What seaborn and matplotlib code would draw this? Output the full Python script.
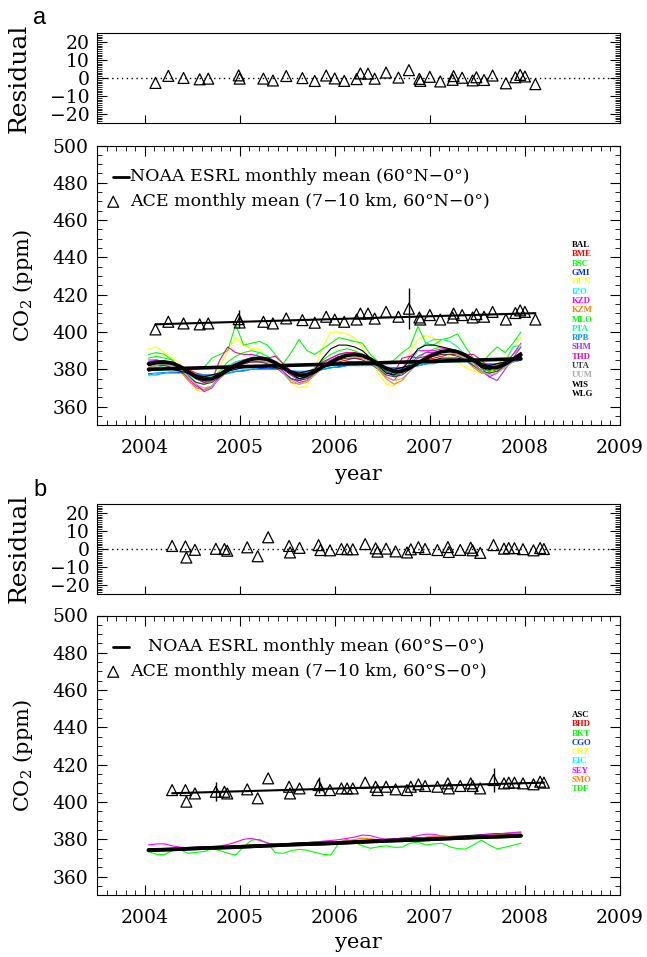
import numpy as np
import pandas as pd
import matplotlib
matplotlib.use("Agg")
import matplotlib.pyplot as plt
import seaborn as sns
from matplotlib.ticker import MultipleLocator

# ---------------- data ----------------
years = [2004, 2005, 2006, 2007]
month_no = list(range(1, 13))

# ACE monthly means, panel a (60N-0)
ace_a_t = [2004.115, 2004.25, 2004.41, 2004.58, 2004.67, 2004.99, 2005.00, 2005.25, 2005.35,
           2005.49, 2005.66, 2005.79, 2005.91, 2006.00, 2006.10, 2006.23, 2006.27, 2006.35,
           2006.42, 2006.54, 2006.67, 2006.78, 2006.89, 2006.90, 2007.00, 2007.11, 2007.24,
           2007.25, 2007.34, 2007.45, 2007.49, 2007.57, 2007.66, 2007.80, 2007.90, 2007.95,
           2008.00, 2008.11]
ace_a_v = [401.4, 405.5, 404.6, 404.1, 404.6, 406.9, 405.1, 405.5, 404.6,
           407.3, 406.4, 405.0, 408.2, 406.7, 405.5, 406.7, 409.9, 409.9,
           407.2, 410.8, 408.2, 412.5, 407.8, 406.7, 409.1, 406.7, 407.8,
           409.9, 409.1, 407.8, 409.6, 408.2, 410.8, 406.7, 410.2, 411.6,
           410.8, 406.7]
ace_a_err_t = [2004.99, 2006.78]
ace_a_err_v = [406.9, 412.5]
ace_a_err = [5.0, 11.0]

# ACE monthly means, panel b (60S-0)
ace_b_t = [2004.29, 2004.43, 2004.44, 2004.53, 2004.75, 2004.84, 2004.87, 2005.08, 2005.19,
           2005.30, 2005.52, 2005.53, 2005.63, 2005.83, 2005.85, 2005.95, 2006.07, 2006.13,
           2006.19, 2006.32, 2006.43, 2006.45, 2006.54, 2006.64, 2006.76, 2006.80, 2006.88,
           2006.95, 2007.08, 2007.19, 2007.20, 2007.32, 2007.43, 2007.45, 2007.53, 2007.67,
           2007.78, 2007.83, 2007.89, 2007.98, 2008.09, 2008.16, 2008.20]
ace_b_v = [406.4, 406.4, 400.2, 404.6, 405.5, 405.5, 404.6, 406.8, 402.0,
           412.7, 408.2, 404.6, 407.3, 409.1, 406.4, 406.4, 407.3, 407.3,
           407.3, 410.4, 408.2, 406.4, 408.2, 406.8, 406.4, 408.2, 409.5,
           408.6, 408.2, 410.0, 407.3, 408.6, 410.0, 408.6, 407.3, 411.8,
           410.0, 410.4, 410.4, 410.0, 409.5, 410.9, 410.4]
ace_b_err_t = [2004.75, 2005.83, 2007.67]
ace_b_err_v = [405.5, 409.1, 411.8]
ace_b_err = [5.0, 4.5, 6.5]

# NOAA ESRL monthly mean, 60N-0 (Jan 2004 .. Dec 2007)
noaa_mean_a = [383.0, 383.8, 384.0, 383.3, 381.5, 378.8, 376.2, 374.8, 375.0, 376.8, 379.5, 382.0,
               384.0, 385.5, 386.0, 385.4, 383.6, 381.0, 378.4, 376.8, 377.0, 378.8, 381.4, 383.8,
               386.0, 387.5, 388.0, 387.4, 385.6, 383.0, 380.4, 378.8, 379.0, 380.8, 383.4, 385.8,
               388.0, 389.5, 390.0, 389.4, 387.6, 385.0, 382.4, 380.8, 381.0, 382.8, 385.4, 387.8]

stations_a = ["BAL", "BME", "BSC", "GMI", "HUN", "IZO", "KZD", "KZM",
              "MLO", "PTA", "RPB", "SHM", "THD", "UTA", "UUM", "WIS", "WLG"]
BAL = [383, 384, 384, 383, 381, 378, 375, 373, 374, 377, 380, 382,
       384, 386, 386, 385, 383, 380, 377, 375, 376, 379, 382, 384,
       386, 388, 388, 387, 385, 382, 379, 377, 378, 381, 384, 386,
       388, 390, 390, 389, 387, 384, 381, 379, 380, 383, 386, 389]
BME = [382, 383, 383, 383, 382, 380, 378, 377, 377, 378, 380, 381,
       383, 384, 384, 384, 383, 381, 379, 378, 378, 379, 381, 383,
       384, 385, 386, 386, 385, 383, 381, 379, 379, 381, 383, 385,
       386, 387, 388, 388, 387, 385, 383, 381, 381, 383, 385, 387]
BSC = [388, 389, 388, 385, 381, 377, 373, 372, 374, 379, 384, 387,
       389, 390, 389, 387, 383, 378, 375, 374, 376, 380, 385, 388,
       390, 391, 390, 388, 385, 381, 378, 377, 378, 382, 386, 389,
       391, 392, 391, 389, 386, 382, 380, 379, 380, 383, 388, 392]
GMI = [377.6, 378.0, 378.3, 378.5, 378.3, 377.9, 377.2, 376.5, 376.3, 376.9, 377.8, 378.8,
       379.5, 380.0, 380.4, 380.6, 380.4, 380.0, 379.3, 378.6, 378.4, 379.0, 379.9, 380.8,
       381.5, 382.0, 382.5, 382.7, 382.5, 382.0, 381.3, 380.6, 380.4, 381.0, 381.9, 382.9,
       383.6, 384.1, 384.5, 384.7, 384.5, 384.0, 383.3, 382.6, 382.4, 383.0, 384.0, 384.9]
HUN = [391, 392, 389, 386, 383, 377, 369, 368, 371, 381, 390, 397,
       393, 391, 391, 386, 383, 378, 373, 370, 371, 381, 392, 400,
       400, 399, 397, 392, 385, 378, 372, 371, 380, 389, 396, 398,
       397, 392, 386, 384, 381, 379, 378, 377, 383, 386, 391, 397]
IZO = [377, 378, 378, 379, 379, 378, 377, 376, 376, 377, 378, 379,
       380, 380, 381, 381, 381, 380, 379, 378, 378, 379, 380, 381,
       382, 383, 383, 383, 383, 382, 381, 380, 380, 381, 382, 383,
       384, 385, 385, 385, 385, 384, 383, 382, 382, 383, 384, 385]
KZD = [384, 385, 384, 383, 380, 375, 371, 369, 371, 376, 381, 384,
       385, 386, 386, 385, 383, 379, 375, 373, 374, 378, 383, 386,
       388, 389, 389, 388, 386, 381, 376, 374, 380, 387, 390, 390,
       390, 391, 391, 390, 388, 384, 379, 376, 378, 383, 388, 394]
KZM = [382, 383, 383, 382, 379, 374, 370, 369, 371, 375, 379, 382,
       384, 385, 385, 384, 382, 378, 373, 372, 374, 377, 381, 384,
       386, 387, 387, 386, 384, 380, 375, 372, 374, 379, 384, 387,
       389, 389, 389, 388, 385, 381, 378, 378, 379, 381, 384, 387]
MLO = [386, 387, 386, 385, 381, 380, 380, 381, 386, 388, 390, 404,
       393, 394, 395, 393, 388, 383, 389, 396, 390, 388, 391, 394,
       397, 396, 395, 394, 388, 384, 383, 385, 389, 392, 403, 394,
       393, 396, 397, 399, 392, 386, 383, 388, 392, 389, 394, 400]
PTA = [380, 381, 382, 382, 380, 377, 375, 374, 376, 379, 382, 384,
       385, 386, 389, 387, 384, 380, 378, 377, 378, 381, 384, 386,
       388, 388, 388, 387, 385, 382, 379, 378, 380, 383, 390, 394,
       396, 396, 395, 392, 388, 384, 382, 381, 382, 384, 392, 393]
RPB = [377, 377, 378, 378, 378, 378, 377, 377, 377, 378, 378, 379,
       379, 380, 380, 380, 380, 380, 379, 379, 379, 380, 380, 381,
       381, 382, 382, 382, 382, 382, 381, 381, 381, 382, 382, 383,
       383, 384, 384, 384, 384, 384, 383, 383, 383, 384, 384, 385]
SHM = [385, 385, 384, 384, 382, 377, 372, 368, 370, 376, 380, 383,
       385, 386, 385, 385, 384, 381, 377, 374, 376, 379, 382, 385,
       387, 387, 388, 387, 386, 383, 379, 376, 378, 383, 387, 389,
       389, 390, 390, 389, 388, 385, 381, 376, 374, 380, 386, 392]
THD = [383, 384, 384, 383, 381, 378, 375, 373, 374, 385, 392, 389,
       388, 388, 387, 386, 387, 383, 379, 377, 378, 380, 384, 386,
       388, 389, 389, 388, 386, 383, 380, 378, 386, 387, 386, 387,
       389, 390, 390, 389, 388, 388, 385, 381, 382, 384, 386, 389]
UTA = [381, 382, 382, 381, 379, 376, 373, 372, 373, 376, 379, 381,
       383, 384, 384, 383, 381, 378, 375, 374, 375, 378, 381, 383,
       385, 386, 386, 385, 383, 380, 377, 376, 377, 380, 384, 386,
       387, 388, 388, 387, 385, 382, 379, 378, 379, 382, 385, 387]
UUM = [381, 382, 383, 382, 380, 376, 372, 370, 371, 375, 379, 382,
       384, 385, 385, 384, 382, 378, 374, 372, 373, 377, 381, 384,
       386, 387, 387, 386, 384, 380, 376, 374, 375, 379, 383, 386,
       388, 389, 389, 388, 386, 383, 379, 377, 378, 381, 384, 388]
WIS = [382, 383, 383, 383, 381, 378, 375, 374, 375, 378, 381, 383,
       384, 385, 386, 386, 384, 381, 378, 375, 376, 380, 386, 391,
       393, 393, 392, 390, 386, 382, 378, 377, 380, 385, 391, 393,
       393, 392, 391, 390, 388, 385, 381, 380, 381, 383, 386, 389]
WLG = [379, 380, 380, 380, 379, 378, 377, 376, 377, 378, 379, 380,
       381, 382, 382, 382, 381, 380, 379, 378, 379, 380, 381, 382,
       383, 384, 384, 384, 383, 382, 381, 380, 381, 382, 383, 384,
       385, 386, 386, 386, 385, 384, 383, 382, 383, 384, 385, 386]
colors_a = ["#000000", "#ff0000", "#00ff00", "#0033ff", "#ffff00", "#00ffff", "#ff00ff", "#ff8000",
            "#00ff00", "#00ff99", "#0099ff", "#9933ff", "#ff0099", "#404040", "#aaaaaa", "#000000", "#000000"]
values_a = [BAL, BME, BSC, GMI, HUN, IZO, KZD, KZM, MLO, PTA, RPB, SHM, THD, UTA, UUM, WIS, WLG]

# NOAA ESRL monthly mean, 60S-0
noaa_mean_b = [374.3, 374.4, 374.5, 374.6, 374.8, 375.0, 375.2, 375.3, 375.4, 375.5, 375.6, 375.8,
               376.0, 376.2, 376.4, 376.6, 376.8, 377.0, 377.2, 377.3, 377.4, 377.5, 377.6, 377.8,
               378.0, 378.2, 378.4, 378.7, 378.9, 379.1, 379.3, 379.4, 379.5, 379.6, 379.7, 379.9,
               380.1, 380.3, 380.5, 380.7, 380.9, 381.1, 381.2, 381.3, 381.4, 381.5, 381.7, 381.9]
stations_b = ["ASC", "BHD", "BKT", "CGO", "CRZ", "EIC", "SEY", "SMO", "TDF"]
ASC = [375.0, 375.1, 375.0, 374.9, 375.0, 375.3, 375.6, 375.8, 376.0, 376.1, 376.2, 376.4,
       376.6, 376.8, 377.0, 377.0, 377.1, 377.4, 377.8, 378.1, 378.3, 378.5, 378.6, 378.7,
       378.8, 379.0, 379.3, 379.5, 379.6, 379.8, 380.0, 380.3, 380.6, 380.8, 380.9, 381.0,
       381.1, 381.3, 381.5, 381.7, 381.9, 382.2, 382.5, 382.8, 383.0, 383.2, 383.3, 383.4]
BHD = [374.3, 374.4, 374.6, 374.8, 375.0, 375.2, 375.4, 375.5, 375.6, 375.7, 375.8, 375.9,
       376.1, 376.3, 376.5, 376.8, 377.0, 377.2, 377.4, 377.5, 377.6, 377.7, 377.8, 377.9,
       378.1, 378.3, 378.5, 378.8, 379.0, 379.2, 379.4, 379.5, 379.6, 379.7, 379.8, 380.0,
       380.2, 380.4, 380.6, 380.8, 381.0, 381.2, 381.3, 381.4, 381.5, 381.6, 381.8, 382.0]
BKT = [373.4, 372.0, 371.8, 374.0, 374.5, 372.5, 373.0, 373.5, 375.0, 374.0, 372.5, 371.6,
       376.0, 379.6, 380.0, 378.0, 372.8, 372.5, 374.0, 374.6, 374.2, 373.0, 372.0, 371.6,
       377.9, 380.0, 378.5, 376.5, 375.2, 376.0, 376.5, 375.7, 375.8, 377.9, 378.5, 377.0,
       377.5, 377.9, 376.0, 375.0, 374.8, 377.0, 379.6, 377.0, 374.8, 375.8, 376.8, 377.9]
CGO = [374.0, 374.1, 374.3, 374.5, 374.7, 374.9, 375.1, 375.2, 375.3, 375.4, 375.5, 375.6,
       375.8, 376.0, 376.2, 376.5, 376.7, 376.9, 377.1, 377.2, 377.3, 377.4, 377.5, 377.6,
       377.8, 378.0, 378.2, 378.5, 378.7, 378.9, 379.1, 379.2, 379.3, 379.4, 379.5, 379.7,
       379.9, 380.1, 380.3, 380.5, 380.7, 380.9, 381.0, 381.1, 381.2, 381.3, 381.5, 381.7]
CRZ = [374.2, 374.3, 374.4, 374.6, 374.9, 375.1, 375.3, 375.4, 375.5, 375.5, 375.6, 375.7,
       375.9, 376.1, 376.3, 376.6, 376.9, 377.1, 377.3, 377.4, 377.4, 377.5, 377.6, 377.7,
       377.9, 378.1, 378.3, 378.6, 378.9, 379.1, 379.3, 379.4, 379.4, 379.5, 379.6, 379.8,
       380.0, 380.2, 380.4, 380.7, 380.9, 381.1, 381.2, 381.2, 381.3, 381.4, 381.6, 381.8]
EIC = [374.1, 374.2, 374.2, 374.3, 374.5, 374.8, 375.0, 375.1, 375.2, 375.3, 375.5, 375.7,
       375.9, 376.0, 376.1, 376.2, 376.4, 376.7, 376.9, 377.0, 377.1, 377.3, 377.5, 377.7,
       377.9, 378.0, 378.1, 378.2, 378.4, 378.7, 378.9, 379.0, 379.1, 379.3, 379.5, 379.7,
       379.9, 380.0, 380.1, 380.2, 380.4, 380.7, 380.9, 381.0, 381.1, 381.3, 381.5, 381.7]
SEY = [377.0, 377.5, 377.6, 376.5, 375.8, 375.5, 375.7, 376.0, 376.2, 376.5, 377.2, 378.5,
       380.0, 380.5, 379.5, 378.0, 377.3, 377.2, 377.4, 377.8, 378.2, 378.6, 379.0, 379.4,
       379.8, 380.5, 381.2, 382.3, 382.0, 380.8, 380.0, 380.2, 380.6, 381.0, 382.0, 382.8,
       382.7, 381.8, 381.2, 381.0, 381.4, 381.9, 382.3, 382.5, 382.8, 383.2, 383.6, 384.0]
SMO = [374.6, 374.7, 374.7, 374.8, 375.0, 375.3, 375.5, 375.6, 375.7, 375.9, 376.1, 376.4,
       376.8, 377.0, 376.9, 376.8, 376.9, 377.2, 377.5, 377.6, 377.7, 377.9, 378.2, 378.5,
       378.8, 379.2, 379.9, 380.6, 380.3, 379.8, 379.8, 379.9, 380.0, 380.2, 380.6, 381.1,
       381.6, 381.9, 381.5, 381.2, 381.3, 381.6, 381.9, 382.1, 382.3, 382.6, 383.0, 383.3]
TDF = [373.8, 373.9, 374.1, 374.3, 374.5, 374.7, 374.9, 375.0, 375.1, 375.2, 375.3, 375.4,
       375.6, 375.8, 376.0, 376.3, 376.5, 376.7, 376.9, 377.0, 377.1, 377.2, 377.3, 377.4,
       377.6, 377.8, 378.0, 378.3, 378.5, 378.7, 378.9, 379.0, 379.1, 379.2, 379.3, 379.5,
       379.7, 379.9, 380.1, 380.3, 380.5, 380.7, 380.8, 380.9, 381.0, 381.1, 381.3, 381.5]
colors_b = ["#000000", "#ff0000", "#00ff00", "#0033ff", "#ffff00", "#00ffff", "#ff00ff", "#ff8000", "#00ff00"]
values_b = [ASC, BHD, BKT, CGO, CRZ, EIC, SEY, SMO, TDF]

legend_a = ["NOAA ESRL monthly mean (60°N\u22120°)", "ACE monthly mean (7\u221210 km, 60°N\u22120°)"]
legend_b = ["NOAA ESRL monthly mean (60°S\u22120°)", "ACE monthly mean (7\u221210 km, 60°S\u22120°)"]

# ---------------- style ----------------
sns.set_style("ticks")
plt.rcParams["font.family"] = ["DejaVu Serif"]
plt.rcParams["mathtext.fontset"] = "dejavuserif"
plt.rcParams["axes.linewidth"] = 0.8
plt.rcParams["axes.edgecolor"] = "black"
plt.rcParams["text.color"] = "black"
plt.rcParams["xtick.color"] = "black"
plt.rcParams["ytick.color"] = "black"
plt.rcParams["axes.labelcolor"] = "black"

month_t = np.array([y + (m - 0.5) / 12.0 for y in years for m in month_no])

W, H = 647, 957
fig = plt.figure(figsize=(W / 100, H / 100), dpi=100)
L = 97 / W
Wd = (620 - 97) / W
ax_ra = fig.add_axes([L, 1 - 123 / H, Wd, 90 / H])
ax_a = fig.add_axes([L, 1 - 425.3 / H, Wd, 279.8 / H])
ax_rb = fig.add_axes([L, 1 - 594 / H, Wd, 90 / H])
ax_b = fig.add_axes([L, 1 - 895.3 / H, Wd, 279.8 / H])

tri_kws = dict(s=62, facecolors="none", edgecolors="k", linewidths=0.9, alpha=1, marker="^", zorder=5)


def residual_panel(ax, t, v):
    sns.residplot(x=np.array(t), y=np.array(v), ax=ax, color="k", scatter_kws=dict(tri_kws))
    for ln in ax.lines:
        ln.set_linewidth(1.0)
        ln.set_color("k")
        ln.set_linestyle((0, (1, 2.5)))
    ax.set_xlim(2003.5, 2009.0)
    ax.set_ylim(-25, 25)
    ax.yaxis.set_major_locator(MultipleLocator(10))
    ax.yaxis.set_minor_locator(MultipleLocator(1))
    ax.xaxis.set_major_locator(MultipleLocator(1))
    ax.tick_params(axis="y", which="major", direction="in", length=7, width=0.8,
                   left=True, right=True, labelsize=13.5, pad=5)
    ax.tick_params(axis="y", which="minor", direction="in", length=3.5, width=0.6,
                   left=True, right=True)
    ax.tick_params(axis="x", which="major", direction="in", length=6, width=0.8,
                   bottom=True, top=False, labelbottom=False)
    ax.set_xlabel("")
    ax.set_ylabel("")


def main_panel(ax, stations, values, colors, mean, ace_t, ace_v, et, ev, ee):
    rows = []
    for name, vals in zip(stations, values):
        for tt, vv in zip(month_t, vals):
            rows.append((name, tt, vv))
    df = pd.DataFrame(rows, columns=["station", "t", "co2"])
    sns.lineplot(data=df, x="t", y="co2", hue="station", hue_order=stations,
                 palette=dict(zip(stations, colors)), lw=0.8, legend=False, ax=ax,
                 estimator=None, sort=False)
    sns.lineplot(x=month_t, y=mean, color="k", lw=2.6, ax=ax, zorder=4)
    sns.regplot(x=month_t, y=np.array(mean), scatter=False, ci=None, color="k",
                line_kws=dict(lw=2.6, zorder=4), ax=ax)
    sns.regplot(x=np.array(ace_t), y=np.array(ace_v), ci=None, color="k", marker="^",
                scatter_kws={k: v for k, v in tri_kws.items() if k != "marker"},
                line_kws=dict(lw=1.5, zorder=5), ax=ax)
    ax.errorbar(et, ev, yerr=ee, fmt="none", ecolor="k", elinewidth=1.0, capsize=0, zorder=5)
    ax.set_xlim(2003.5, 2009.0)
    ax.set_ylim(350, 500)
    ax.xaxis.set_major_locator(MultipleLocator(1))
    ax.xaxis.set_minor_locator(MultipleLocator(0.1))
    ax.yaxis.set_major_locator(MultipleLocator(20))
    ax.yaxis.set_minor_locator(MultipleLocator(5))
    ax.yaxis.set_major_formatter(matplotlib.ticker.FuncFormatter(lambda v, p: "" if v < 360 else f"{v:.0f}"))
    ax.tick_params(axis="both", which="major", direction="in", length=7, width=0.8,
                   left=True, right=True, top=True, bottom=True, labelsize=13.5)
    ax.tick_params(axis="both", which="minor", direction="in", length=3.5, width=0.6,
                   left=True, right=True, top=True, bottom=True)
    ax.tick_params(axis="x", which="major", pad=10)
    ax.tick_params(axis="y", which="major", pad=6)
    ax.set_xlabel("")
    ax.set_ylabel("")


residual_panel(ax_ra, ace_a_t, ace_a_v)
residual_panel(ax_rb, ace_b_t, ace_b_v)
main_panel(ax_a, stations_a, values_a, colors_a, noaa_mean_a, ace_a_t, ace_a_v,
           ace_a_err_t, ace_a_err_v, ace_a_err)
main_panel(ax_b, stations_b, values_b, colors_b, noaa_mean_b, ace_b_t, ace_b_v,
           ace_b_err_t, ace_b_err_v, ace_b_err)

# station labels
for i, (name, c) in enumerate(zip(stations_a, colors_a)):
    ax_a.text(0.908, 0.6444 - i * 0.0333, name, transform=ax_a.transAxes, color=c,
              fontsize=6.3, fontweight="bold", family=["Liberation Serif"], va="center", ha="left")
for i, (name, c) in enumerate(zip(stations_b, colors_b)):
    ax_b.text(0.908, 0.6444 - i * 0.0332, name, transform=ax_b.transAxes, color=c,
              fontsize=6.3, fontweight="bold", family=["Liberation Serif"], va="center", ha="left")

# legends (manual)
for ax, labels, text_x0 in [(ax_a, legend_a, 0.0635), (ax_b, legend_b, 0.098)]:
    ax.plot([0.031, 0.062], [0.8885, 0.8885], color="k", lw=2.0, transform=ax.transAxes)
    ax.text(text_x0, 0.8885, labels[0], transform=ax.transAxes, fontsize=12.5, va="center", ha="left")
    ax.scatter([0.031], [0.799], transform=ax.transAxes, **tri_kws)
    ax.text(0.0635, 0.799, labels[1], transform=ax.transAxes, fontsize=12.5, va="center", ha="left")

# axis titles
for yc in [78, 548]:
    fig.text(19 / W, 1 - yc / H, "Residual", rotation=90, ha="center", va="center", fontsize=18)
for yc in [285.4, 755.4]:
    fig.text(23 / W, 1 - yc / H, "CO$_2$ (ppm)", rotation=90, ha="center", va="center", fontsize=15)
for yc in [475, 943]:
    fig.text(358.5 / W, 1 - yc / H, "year", ha="center", va="center", fontsize=15)
fig.text(40 / W, 1 - 18 / H, "a", ha="center", va="center", fontsize=17, family=["Liberation Sans"])
fig.text(40 / W, 1 - 490 / H, "b", ha="center", va="center", fontsize=17, family=["Liberation Sans"])

fig.savefig("out.png", dpi=100)
